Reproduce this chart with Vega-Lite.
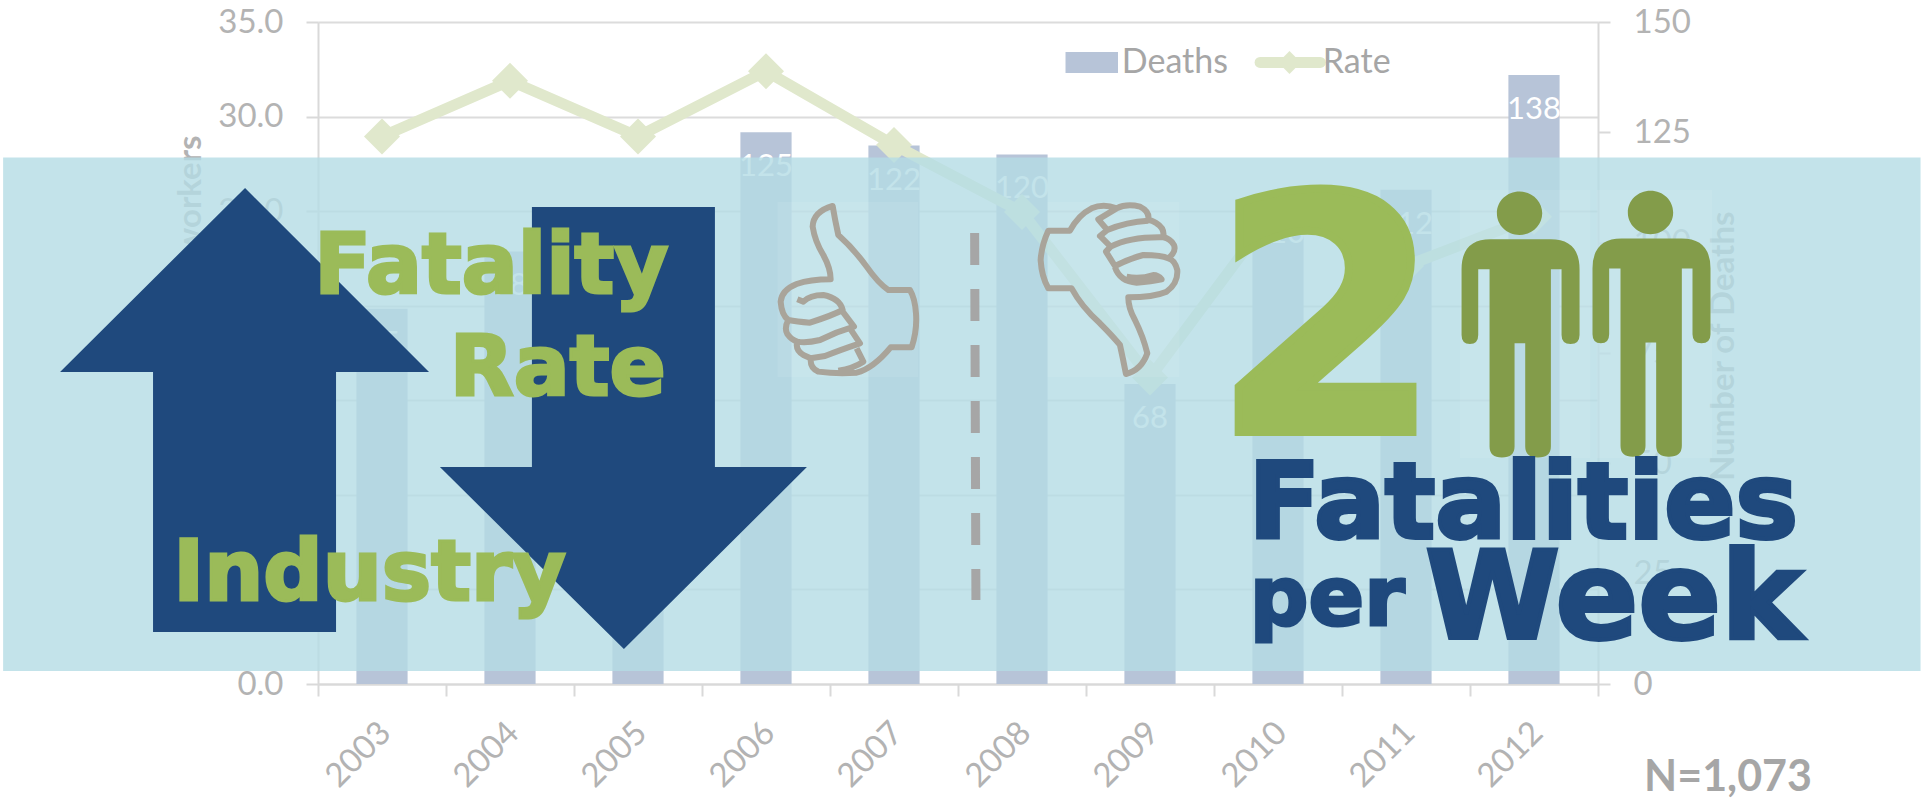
{"$schema":"https://vega.github.io/schema/vega-lite/v6.json","width":1280,"height":662,"autosize":{"type":"none"},"padding":{"left":318,"top":22,"right":323,"bottom":121},"background":"white","config":{"view":{"stroke":null},"font":"Lato"},"resolve":{"scale":{"x":"independent","y":"independent"},"axis":{"x":"independent","y":"independent"}},"layer":[{"data":{"values":[{"year":"2003","deaths":85},{"year":"2004","deaths":98},{"year":"2005","deaths":95},{"year":"2006","deaths":125},{"year":"2007","deaths":122},{"year":"2008","deaths":120},{"year":"2009","deaths":68},{"year":"2010","deaths":110},{"year":"2011","deaths":112},{"year":"2012","deaths":138}]},"encoding":{"x":{"field":"year","type":"nominal","scale":{"paddingInner":0,"paddingOuter":0},"axis":{"title":null,"tickBand":"extent","labelAngle":-45,"labelFontSize":33,"labelColor":"#b3b3b3","labelPadding":20,"labelOffset":-8,"tickSize":12,"tickWidth":2,"tickColor":"#d9d9d9","domainColor":"#d9d9d9","domainWidth":2,"labelOverlap":false,"grid":false}},"y":{"field":"deaths","type":"quantitative","scale":{"domain":[0,150]},"axis":{"orient":"right","title":"Number of Deaths","titleFontSize":33,"titleFontWeight":"bold","titleColor":"#b3b3b3","titleX":135,"titleY":189,"titleAngle":270,"titleAlign":"right","titleBaseline":"alphabetic","values":[0,25,50,75,100,125,150],"labelFontSize":33,"labelColor":"#b3b3b3","labelPadding":23,"tickSize":12,"tickWidth":2,"tickColor":"#d9d9d9","domainColor":"#d9d9d9","domainWidth":2,"grid":false}}},"layer":[{"mark":{"type":"bar","color":"#b7c4d8","width":{"band":0.4}}},{"mark":{"type":"text","color":"white","fontSize":31,"dy":35,"baseline":"middle"},"encoding":{"text":{"field":"deaths","type":"quantitative"}}}]},{"data":{"values":[{"at_year":2003,"rate":28.95},{"at_year":2004,"rate":31.9},{"at_year":2005,"rate":28.95},{"at_year":2006,"rate":32.4},{"at_year":2007,"rate":28.5},{"at_year":2008,"rate":24.95},{"at_year":2009,"rate":16.2},{"at_year":2010,"rate":25.3},{"at_year":2011,"rate":22.1},{"at_year":2012,"rate":24.7}]},"encoding":{"x":{"field":"at_year","type":"quantitative","scale":{"domain":[2002.5,2012.5]},"axis":null},"y":{"field":"rate","type":"quantitative","scale":{"domain":[0,35]},"axis":{"orient":"left","title":"Rate per 100,000 workers","titleFontSize":33,"titleFontWeight":"bold","titleColor":"#b3b3b3","titleX":-118,"titleY":113,"titleAngle":270,"titleAlign":"right","titleBaseline":"alphabetic","values":[0,5,10,15,20,25,30,35],"format":".1f","labelFontSize":33,"labelColor":"#b3b3b3","labelPadding":23,"tickSize":12,"tickWidth":2,"tickColor":"#d9d9d9","domainColor":"#d9d9d9","domainWidth":2,"grid":true,"gridColor":"#dcdcdc","gridWidth":2}}},"layer":[{"mark":{"type":"line","color":"#e0e8cc","strokeWidth":11}},{"mark":{"type":"point","shape":"diamond","filled":true,"fill":"#e0e8cc","size":1296,"opacity":1}}]},{"encoding":{"x":{"field":"at_year","type":"quantitative","scale":{"domain":[2002.5,2012.5]},"axis":null},"y":{"field":"at_rate","type":"quantitative","scale":{"domain":[0,35]},"axis":null}},"layer":[{"data":{"values":[{"item":"panel","at_year":2000.04,"to_year":2015.02,"at_rate":27.83,"to_rate":0.69}]},"mark":{"type":"rect","fill":"#b4dce5","opacity":0.8},"encoding":{"x2":{"field":"to_year"},"y2":{"field":"to_rate"}}},{"data":{"values":[{"item":"thumb up","at_year":2006.09,"to_year":2007.19,"at_rate":25.48,"to_rate":16.23},{"item":"thumb down","at_year":2008.2,"to_year":2009.23,"at_rate":25.48,"to_rate":16.23},{"item":"person 1","at_year":2011.42,"to_year":2012.44,"at_rate":26.12,"to_rate":11.95},{"item":"person 2","at_year":2012.49,"to_year":2013.39,"at_rate":26.12,"to_rate":11.95}]},"mark":{"type":"rect","fill":"white","opacity":0.08},"encoding":{"x2":{"field":"to_year"},"y2":{"field":"to_rate"}}},{"data":{"values":[{"item":"divider","at_year":2007.63,"to_year":2007.64,"at_rate":23.85,"to_rate":4.44}]},"mark":{"type":"rule","color":"#a6a6a6","strokeWidth":9,"strokeDash":[32,24]},"encoding":{"x2":{"field":"to_year"},"y2":{"field":"to_rate"}}},{"data":{"values":[{"item":"thumb up","at_year":2005.953,"at_rate":26.647}]},"mark":{"type":"point","filled":false,"opacity":1,"size":0.4444,"stroke":"#a9a49a","strokeWidth":6,"strokeJoin":"round","shape":"M218,78 Q160,95 158,140 Q165,185 190,225 Q212,265 212,298 Q150,298 110,312 Q65,330 62,365 Q65,405 85,420 Q72,445 82,462 Q95,480 112,485 Q105,510 130,525 L152,535 Q150,565 175,575 Q230,582 290,578 Q340,565 392,502 L455,502 Q472,450 468,400 Q465,355 450,330 L385,330 Q355,310 320,260 Q280,205 235,165 Q225,120 218,78 Z M112,358 L130,365 Q150,345 190,345 Q240,355 248,390 Q220,405 150,428 Q110,425 85,420 M248,395 L282,440 Q230,455 180,480 Q140,490 112,485 M270,445 L300,490 Q240,510 195,528 L152,535 M290,505 L310,545 Q280,565 235,572"}},{"data":{"values":[{"item":"thumb down","at_year":2007.984,"at_rate":26.647}]},"mark":{"type":"point","filled":false,"opacity":1,"size":0.4444,"stroke":"#a9a49a","strokeWidth":6,"strokeJoin":"round","shape":"M318,582 Q365,570 382,520 Q370,470 345,420 Q325,385 325,352 Q400,352 440,335 Q475,310 472,270 Q465,240 445,235 Q470,215 462,195 Q450,175 430,172 Q435,145 410,130 Q395,120 385,120 Q390,95 360,80 Q320,70 290,85 Q250,70 215,85 Q175,105 150,152 L85,152 Q65,195 62,240 Q65,290 85,325 L155,325 Q185,380 240,430 Q280,470 300,495 Q310,540 318,582 Z M290,85 L235,118 L262,150 Q320,125 385,122 M262,150 L240,168 L272,200 Q330,170 430,172 M272,200 L258,215 L285,258 Q330,235 370,225 Q425,225 445,235 M285,262 Q300,305 350,308 Q395,305 425,298 Q415,285 400,285 Q360,298 320,290"}},{"data":{"values":[{"item":"person 1","at_year":2011.27,"at_rate":26.65},{"item":"person 2","at_year":2012.293,"at_rate":26.69}]},"mark":{"type":"point","filled":true,"opacity":1,"size":0.4444,"fill":"#839c4a","stroke":null,"shape":"M305,100 C305,136 275,165 237,165 C199,165 169,136 169,100 C169,64 199,35 237,35 C275,35 305,64 305,100 Z M150,178 L330,178 Q417,178 417,268 L417,465 Q417,492 390,492 Q363,492 363,465 L363,268 L331,268 L331,800 Q331,833 292,833 Q254,833 254,800 L254,490 L222,490 L222,800 Q222,833 184,833 Q147,833 147,800 L147,268 L113,268 L113,465 Q113,492 88,492 Q63,492 63,465 L63,268 Q63,178 150,178 Z"}},{"data":{"values":[{"item":"arrow up","at_year":2001.93,"at_rate":14.49}]},"mark":{"type":"point","filled":true,"opacity":1,"size":4,"fill":"#1f497d","stroke":null,"shape":"M0,-222 L184,-38 L91,-38 L91,222 L-92,222 L-92,-38 L-185,-38 Z"}},{"data":{"values":[{"item":"arrow down","at_year":2004.89,"at_rate":13.53}]},"mark":{"type":"point","filled":true,"opacity":1,"size":4,"fill":"#1f497d","stroke":null,"shape":"M-92,-221 L91,-221 L91,39 L183,39 L0,221 L-184,39 L-92,39 Z"}},{"data":{"values":[{"label":"Fatality","at_year":2002.47,"at_rate":20.68},{"label":"Rate","at_year":2003.53,"at_rate":15.28},{"label":"Industry","at_year":2001.37,"at_rate":4.42}]},"mark":{"type":"text","font":"DejaVu Sans","fontWeight":"bold","fontSize":83,"fill":"#9bbb59","stroke":"#9bbb59","strokeWidth":3,"align":"left","baseline":"alphabetic"},"encoding":{"text":{"field":"label"}}},{"data":{"values":[{"label":"2","at_year":2009.49,"at_rate":13.32}]},"mark":{"type":"text","font":"DejaVu Sans","fontWeight":"bold","fontSize":328,"fill":"#9bbb59","stroke":"#9bbb59","strokeWidth":8,"align":"left","baseline":"alphabetic"},"encoding":{"text":{"field":"label"}}},{"data":{"values":[{"label":"Fatalities","at_year":2009.77,"at_rate":7.72}]},"mark":{"type":"text","font":"DejaVu Sans","fontWeight":"bold","fontSize":105,"fill":"#1f497d","stroke":"#1f497d","strokeWidth":4,"align":"left","baseline":"alphabetic"},"encoding":{"text":{"field":"label"}}},{"data":{"values":[{"label":"per","at_year":2009.78,"at_rate":3.12}]},"mark":{"type":"text","font":"DejaVu Sans","fontWeight":"bold","fontSize":82,"fill":"#1f497d","stroke":"#1f497d","strokeWidth":3,"align":"left","baseline":"alphabetic"},"encoding":{"text":{"field":"label"}}},{"data":{"values":[{"label":"Week","at_year":2011.15,"at_rate":2.41}]},"mark":{"type":"text","font":"DejaVu Sans","fontWeight":"bold","fontSize":122,"fill":"#1f497d","stroke":"#1f497d","strokeWidth":4,"align":"left","baseline":"alphabetic"},"encoding":{"text":{"field":"label"}}},{"data":{"values":[{"label":"N=1,073","at_year":2012.86,"at_rate":-5.66}]},"mark":{"type":"text","fontWeight":"bold","fontSize":43,"fill":"#a6a6a6","align":"left","baseline":"alphabetic"},"encoding":{"text":{"field":"label"}}},{"data":{"values":[{"item":"Deaths key","at_year":2008.34,"to_year":2008.75,"at_rate":33.41,"to_rate":32.3}]},"mark":{"type":"rect","fill":"#b7c4d8"},"encoding":{"x2":{"field":"to_year"},"y2":{"field":"to_rate"}}},{"data":{"values":[{"item":"Rate key","at_year":2009.86,"to_year":2010.33,"at_rate":32.86}]},"mark":{"type":"rule","color":"#e0e8cc","strokeWidth":11,"strokeCap":"round"},"encoding":{"x2":{"field":"to_year"}}},{"data":{"values":[{"item":"Rate key","at_year":2010.09,"at_rate":32.86}]},"mark":{"type":"point","shape":"diamond","filled":true,"fill":"#e0e8cc","size":520,"opacity":1}},{"data":{"values":[{"label":"Deaths","at_year":2008.78,"at_rate":32.32},{"label":"Rate","at_year":2010.35,"at_rate":32.32}]},"mark":{"type":"text","fontSize":34,"fill":"#a6a6a6","align":"left","baseline":"alphabetic"},"encoding":{"text":{"field":"label"}}}]}]}
